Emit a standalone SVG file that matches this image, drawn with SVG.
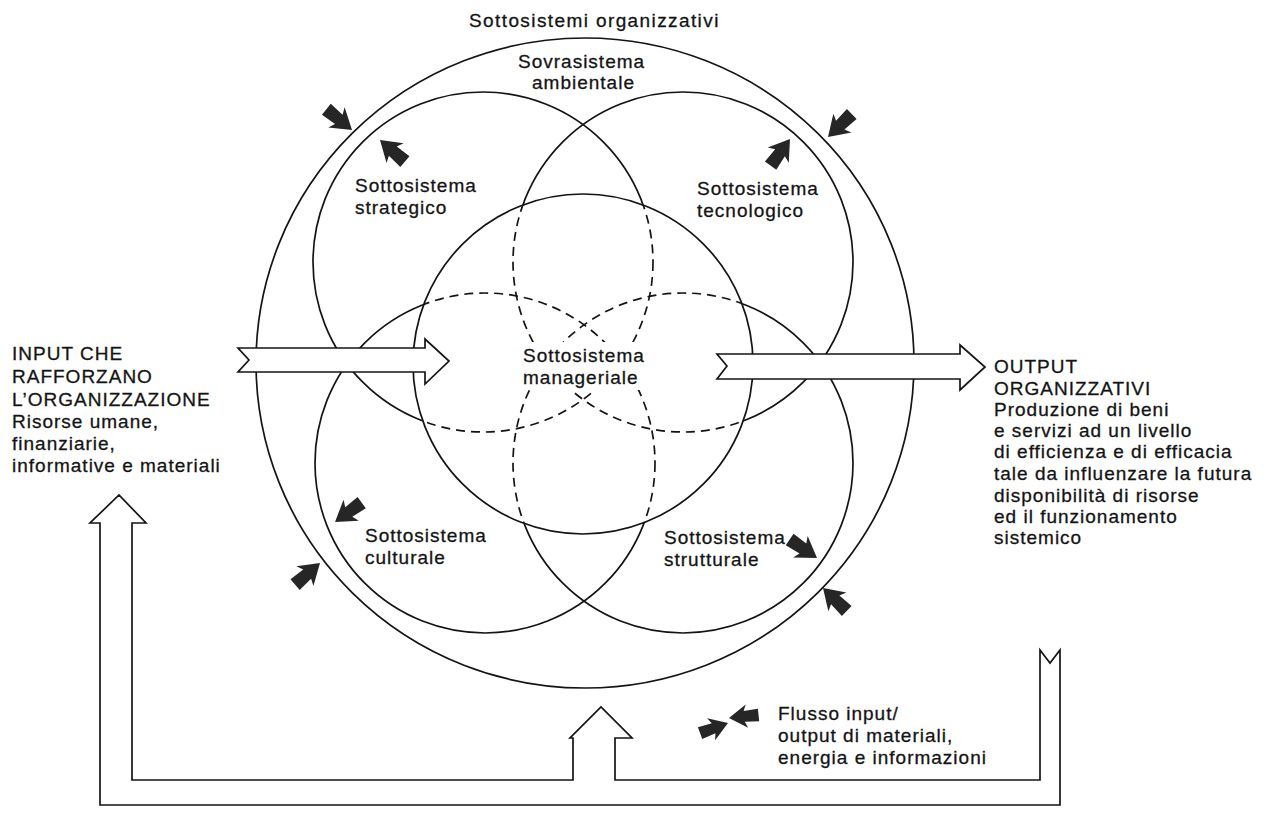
<svg xmlns="http://www.w3.org/2000/svg" xmlns:xlink="http://www.w3.org/1999/xlink" width="1268" height="813" viewBox="0 0 1268 813">
<style>
text{font-family:"Liberation Sans",Arial,sans-serif;font-size:19px;fill:#141414;stroke:#141414;stroke-width:0.3;letter-spacing:1px}
.ring{fill:none;stroke:#141414;stroke-width:1.7}
.dash{fill:none;stroke:#141414;stroke-width:1.7;stroke-dasharray:9 6}
.big{fill:#fff;stroke:#141414;stroke-width:1.7;stroke-linejoin:miter}
.sa{fill:#262626}
</style>
<defs>
<clipPath id="outC"><path clip-rule="evenodd" d="M0,0H1268V813H0Z M413,364a170,170 0 1,0 340,0a170,170 0 1,0 -340,0Z"/></clipPath>
<clipPath id="inC"><circle cx="583" cy="364" r="170"/></clipPath>
<path id="sa" d="M0,0 L-20,-13 L-17,-6 L-33,-7 L-33,7 L-17,6 L-20,13 Z"/>
</defs>
<rect width="1268" height="813" fill="#fff"/>

<g id="outer-system">
<ellipse class="ring" cx="585" cy="363" rx="329" ry="325"/>
<text x="469" y="27" style="letter-spacing:1.4px">Sottosistemi organizzativi</text>
<text x="518" y="68">Sovrasistema</text>
<text x="532" y="89">ambientale</text>
</g>

<g id="strategico">
<circle class="ring" cx="483" cy="262" r="170" clip-path="url(#outC)"/>
<circle class="dash" cx="483" cy="262" r="170" clip-path="url(#inC)"/>
<text x="355" y="192">Sottosistema</text>
<text x="355" y="214">strategico</text>
</g>

<g id="tecnologico">
<circle class="ring" cx="683" cy="262" r="170" clip-path="url(#outC)"/>
<circle class="dash" cx="683" cy="262" r="170" clip-path="url(#inC)"/>
<text x="697" y="195">Sottosistema</text>
<text x="697" y="217">tecnologico</text>
</g>

<g id="culturale">
<circle class="ring" cx="485" cy="463" r="170" clip-path="url(#outC)"/>
<circle class="dash" cx="485" cy="463" r="170" clip-path="url(#inC)"/>
<text x="365" y="542">Sottosistema</text>
<text x="365" y="564">culturale</text>
</g>

<g id="strutturale">
<circle class="ring" cx="683" cy="463" r="170" clip-path="url(#outC)"/>
<circle class="dash" cx="683" cy="463" r="170" clip-path="url(#inC)"/>
<text x="664" y="544">Sottosistema</text>
<text x="664" y="566">strutturale</text>
</g>

<g id="manageriale">
<circle class="ring" cx="583" cy="364" r="170"/>
<rect x="519" y="342" width="126" height="48" fill="#fff"/>
<text x="523" y="362">Sottosistema</text>
<text x="523" y="384">manageriale</text>
</g>

<g id="input-text">
<text x="12" y="360">INPUT CHE</text>
<text x="12" y="383">RAFFORZANO</text>
<text x="12" y="406">L’ORGANIZZAZIONE</text>
<text x="12" y="428">Risorse umane,</text>
<text x="12" y="450">finanziarie,</text>
<text x="12" y="472">informative e materiali</text>
</g>

<g id="output-text">
<text x="994" y="373">OUTPUT</text>
<text x="994" y="395">ORGANIZZATIVI</text>
<text x="994" y="416">Produzione di beni</text>
<text x="994" y="437">e servizi ad un livello</text>
<text x="994" y="458">di efficienza e di efficacia</text>
<text x="994" y="480">tale da influenzare la futura</text>
<text x="994" y="502">disponibilità di risorse</text>
<text x="994" y="523">ed il funzionamento</text>
<text x="994" y="544">sistemico</text>
</g>

<g id="legend">
<use xlink:href="#sa" class="sa" transform="translate(728,723) rotate(-20) scale(0.9)"/>
<use xlink:href="#sa" class="sa" transform="translate(729,718) rotate(174) scale(0.9)"/>
<text x="778" y="720">Flusso input/</text>
<text x="778" y="742">output di materiali,</text>
<text x="778" y="764">energia e informazioni</text>
</g>

<g id="connectors">
<path class="big" d="M238,348 L425,348 L425,339 L449,361 L425,384 L425,372 L238,372 L249,360 Z"/>
<path class="big" d="M717,354 L960,354 L960,345 L985,367 L960,390 L960,379 L717,379 L727,366 Z"/>
<path class="big" d="M1060,650 L1060,805 L100,805 L100,523 L90,523 L119,495 L146,523 L132,523 L132,780 L573,780 L573,738 L570,738 L601,707 L632,738 L615,738 L615,780 L1040,780 L1040,650 L1050,663 Z"/>
<use xlink:href="#sa" class="sa" transform="translate(352,130) rotate(39)"/>
<use xlink:href="#sa" class="sa" transform="translate(380,140) rotate(221)"/>
<use xlink:href="#sa" class="sa" transform="translate(828,137) rotate(136)"/>
<use xlink:href="#sa" class="sa" transform="translate(790,139) rotate(-54)"/>
<use xlink:href="#sa" class="sa" transform="translate(335,522) rotate(144)"/>
<use xlink:href="#sa" class="sa" transform="translate(320,563) rotate(-41)"/>
<use xlink:href="#sa" class="sa" transform="translate(817,558) rotate(34)"/>
<use xlink:href="#sa" class="sa" transform="translate(823,588) rotate(-136)"/>
</g>
</svg>
